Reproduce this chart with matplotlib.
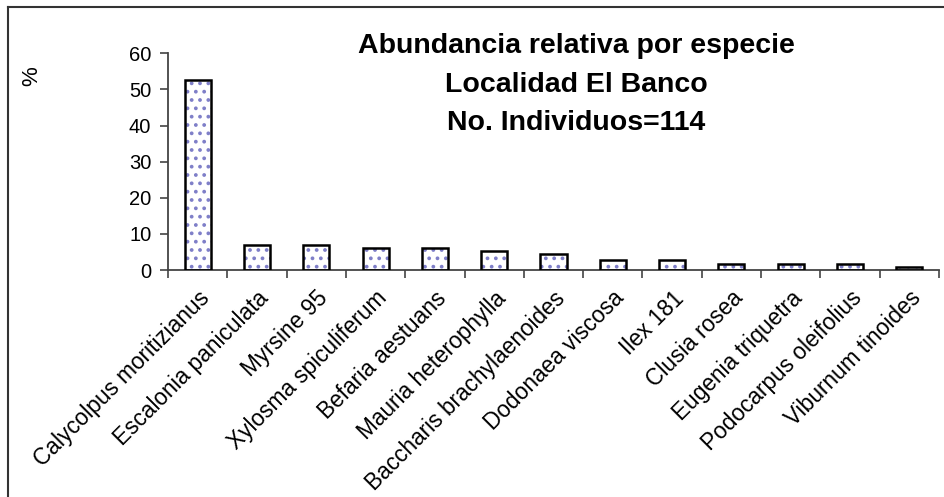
import numpy as np
import matplotlib.pyplot as plt
from matplotlib.lines import Line2D

plt.rcParams['font.family'] = ['Liberation Sans', 'DejaVu Sans']

especies = ["Calycolpus moritizianus", "Escalonia paniculata", "Myrsine 95",
            "Xylosma spiculiferum", "Befaria aestuans", "Mauria heterophylla",
            "Baccharis brachylaenoides", "Dodonaea viscosa", "Ilex 181",
            "Clusia rosea", "Eugenia triquetra", "Podocarpus oleifolius",
            "Viburnum tinoides"]
individuos = [60, 8, 8, 7, 7, 6, 5, 3, 3, 2, 2, 2, 1]
total = 114
porcentaje = [100.0 * n / total for n in individuos]

fig = plt.figure(figsize=(9.45, 4.97), dpi=100)
ax = fig.add_axes([168/945, 1 - 270/497, (939-168)/945, (270-53.3)/497])

x = np.arange(len(especies))
plt.rcParams['hatch.linewidth'] = 1.5
# dotted fill first, then the black outline on top
ax.bar(x, porcentaje, width=0.44, color='white', edgecolor='#7f7fc8',
       hatch='..', linewidth=0, zorder=2)
ax.bar(x, porcentaje, width=0.44, fill=False, edgecolor='black',
       linewidth=1.8, zorder=3)

ax.set_xlim(-0.5, len(especies) - 0.5)
ax.set_ylim(0, 60)
ax.set_yticks(range(0, 61, 10))
ax.set_xticks(np.arange(len(especies) + 1) - 0.5)
ax.set_xticklabels([])
ax.set_xticks(x, minor=True)
ax.set_xticklabels(especies, minor=True, rotation=45, ha='right',
                   rotation_mode='anchor', fontsize=16.3)
ax.tick_params(axis='x', which='minor', length=0, pad=12)
ax.tick_params(axis='x', which='major', length=6, width=1.2, color='#444444')
ax.tick_params(axis='y', length=6, width=1.2, color='#444444', labelsize=14.5,
               pad=6)

for s in ['top', 'right']:
    ax.spines[s].set_visible(False)
for s in ['left', 'bottom']:
    ax.spines[s].set_color('#444444')
    ax.spines[s].set_linewidth(1.3)

fig.text(32/945, 1 - 76/497, '%', rotation=90, fontsize=16,
         ha='center', va='center')

titulo = ["Abundancia relativa por especie", "Localidad El Banco",
          "No. Individuos=114"]
for i, linea in enumerate(titulo):
    fig.text(576/945, 1 - (46 + 38.5*i)/497, linea, fontsize=20.5,
             fontweight='bold', ha='center', va='center')

# chart frame (left and top edges visible)
fig.add_artist(Line2D([8/945, 8/945], [-0.1, 1 - 7/497], color='#333333',
                      lw=1.5, transform=fig.transFigure))
fig.add_artist(Line2D([8/945, 1.1], [1 - 7/497, 1 - 7/497], color='#333333',
                      lw=1.5, transform=fig.transFigure))

fig.savefig('out.png', dpi=100)
